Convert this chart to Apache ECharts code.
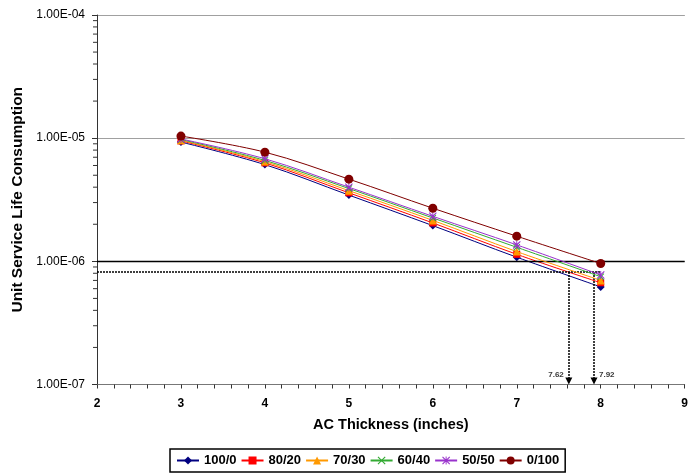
<!DOCTYPE html>
<html>
<head>
<meta charset="utf-8">
<script src="https://cdn.jsdelivr.net/npm/echarts@6/dist/echarts.min.js"></script>
<style>
html,body{margin:0;padding:0;background:#fff;}
#chart{width:691px;height:473px;}
</style>
</head>
<body>
<div id="chart"></div>
<script>
// ---- data ----
var thickness = [3, 4, 5, 6, 7, 8];
var seriesNames = ['100/0', '80/20', '70/30', '60/40', '50/50', '0/100'];
var s100_0  = [9.3e-6, 6.1e-6, 3.45e-6, 1.95e-6, 1.08e-6, 6.2e-7];
var s80_20  = [9.5e-6, 6.3e-6, 3.6e-6, 2.05e-6, 1.14e-6, 6.7e-7];
var s70_30  = [9.6e-6, 6.45e-6, 3.75e-6, 2.15e-6, 1.2e-6, 7.0e-7];
var s60_40  = [9.75e-6, 6.6e-6, 3.9e-6, 2.25e-6, 1.3e-6, 7.5e-7];
var s50_50  = [9.85e-6, 6.8e-6, 4.0e-6, 2.32e-6, 1.36e-6, 7.75e-7];
var s0_100  = [1.04e-5, 7.7e-6, 4.65e-6, 2.7e-6, 1.6e-6, 9.6e-7];
var criterionLevel = 1e-6;
var dottedLevel = 8.2e-7;
var arrowX = [7.62, 7.92];
var arrowLabels = ['7.62', '7.92'];
var yTickLabels = {'-7': '1.00E-07', '-6': '1.00E-06', '-5': '1.00E-05', '-4': '1.00E-04'};
var xTickLabels = ['2', '3', '4', '5', '6', '7', '8', '9'];

// ---- styles ----
var colors = ['#000080', '#ff0000', '#ff9900', '#33aa33', '#9933cc', '#800000'];
var xPath = 'path://M0,1 L1,0 L5,4 L9,0 L10,1 L6,5 L10,9 L9,10 L5,6 L1,10 L0,9 L4,5 Z';
var starPath = 'path://M0,1 L1,0 L5,4 L9,0 L10,1 L6,5 L10,9 L9,10 L5,6 L1,10 L0,9 L4,5 Z M4.4,0 L5.6,0 L5.6,10 L4.4,10 Z';
var symbols = ['diamond', 'rect', 'triangle', xPath, starPath, 'circle'];
var symbolSizes = [8, 7, 8, 7, 8, 9];
var allData = [s100_0, s80_20, s70_30, s60_40, s50_50, s0_100];

function pairs(arr) { return thickness.map(function (x, i) { return [x, arr[i]]; }); }

var series = allData.map(function (arr, k) {
  return {
    name: seriesNames[k], type: 'line', data: pairs(arr),
    smooth: 0.35, symbol: symbols[k], symbolSize: symbolSizes[k],
    showAllSymbol: true,
    lineStyle: { color: colors[k], width: 1 },
    itemStyle: { color: colors[k] },
    z: 3 + k
  };
});

// reference lines
var minorVals = [];
[-7, -6, -5].forEach(function (e) {
  for (var m = 2; m <= 9; m++) minorVals.push([2, m * Math.pow(10, e)]);
});

series.push({
  name: 'ref', type: 'line', data: [], silent: true,
  markLine: {
    silent: true, symbol: 'none', animation: false,
    label: { show: false },
    data: [
      [{ coord: [2, criterionLevel], lineStyle: { color: '#000', width: 1.3, type: 'solid' } },
       { coord: [9, criterionLevel] }],
      [{ coord: [2, dottedLevel], lineStyle: { color: '#000', width: 1.5, type: [2, 1] } },
       { coord: [8, dottedLevel] }]
    ].concat(arrowX.map(function (x) {
      return [{ coord: [x, dottedLevel], symbol: 'none', lineStyle: { color: '#000', width: 1.5, type: [2, 1] } },
              { coord: [x, 1.07e-7], symbol: 'triangle', symbolSize: [7, 7] }];
    }))
  },
  z: 2
});

series.push({
  name: 'arrowText', type: 'scatter', symbolSize: 0, silent: true,
  data: arrowX.map(function (x, i) { return { value: [x, 1.2e-7], label: { position: i === 0 ? 'left' : 'right' }, txt: arrowLabels[i] }; }),
  label: {
    show: true, fontSize: 8, fontWeight: 'bold', color: '#000', fontFamily: 'Liberation Sans, Arial, sans-serif',
    distance: 5,
    formatter: function (p) { return p.data.txt; }
  },
  z: 10
});

series.push({
  name: 'minorTicks', type: 'custom', silent: true, data: minorVals, clip: false,
  renderItem: function (params, api) {
    var p = api.coord([api.value(0), api.value(1)]);
    return { type: 'line', shape: { x1: p[0] - 4, y1: p[1], x2: p[0], y2: p[1] }, style: { stroke: '#333', lineWidth: 1 } };
  },
  z: 10
});

var chart = echarts.init(document.getElementById('chart'), null, { renderer: 'canvas' });
chart.setOption({
  animation: false,
  backgroundColor: '#fff',
  textStyle: { fontFamily: 'Liberation Sans, Arial, sans-serif' },
  grid: { left: 97, right: 6, top: 15, bottom: 88.5, containLabel: false },
  legend: {
    data: seriesNames,
    left: 170, bottom: 1,
    itemWidth: 22, itemHeight: 10, itemGap: 4,
    padding: [5, 6, 5, 6],
    borderColor: '#000', borderWidth: 1.5, borderRadius: 0,
    textStyle: { fontSize: 13, fontWeight: 'bold', color: '#000' }
  },
  xAxis: {
    type: 'value', min: 2, max: 9, interval: 1,
    name: 'AC Thickness (inches)', nameLocation: 'middle', nameGap: 33,
    nameTextStyle: { fontSize: 14.5, fontWeight: 'bold', color: '#000' },
    axisLine: { show: true, lineStyle: { color: '#777', width: 1 } },
    axisTick: { show: true, length: 4, lineStyle: { color: '#333' } },
    minorTick: { show: true, splitNumber: 5, length: 4, lineStyle: { color: '#333' } },
    axisLabel: { fontSize: 12, fontWeight: 'bold', color: '#000', margin: 13,
      formatter: function (v) { return xTickLabels[Math.round(v) - 2]; } },
    splitLine: { show: false }
  },
  yAxis: {
    type: 'log', logBase: 10, min: 1e-7, max: 1e-4,
    name: 'Unit Service Life Consumption', nameLocation: 'middle', nameGap: 71,
    nameTextStyle: { fontSize: 15.5, fontWeight: 'bold', color: '#000' },
    axisLine: { show: true, lineStyle: { color: '#333', width: 1 } },
    axisTick: { show: true, length: 5, lineStyle: { color: '#333' } },
    axisLabel: { fontSize: 12, color: '#000', margin: 12,
      formatter: function (v) { return yTickLabels[String(Math.round(Math.log10(v)))] || ''; } },
    splitLine: { show: true, lineStyle: { color: '#a0a0a0', width: 1 } }
  },
  series: series
});
</script>
</body>
</html>
